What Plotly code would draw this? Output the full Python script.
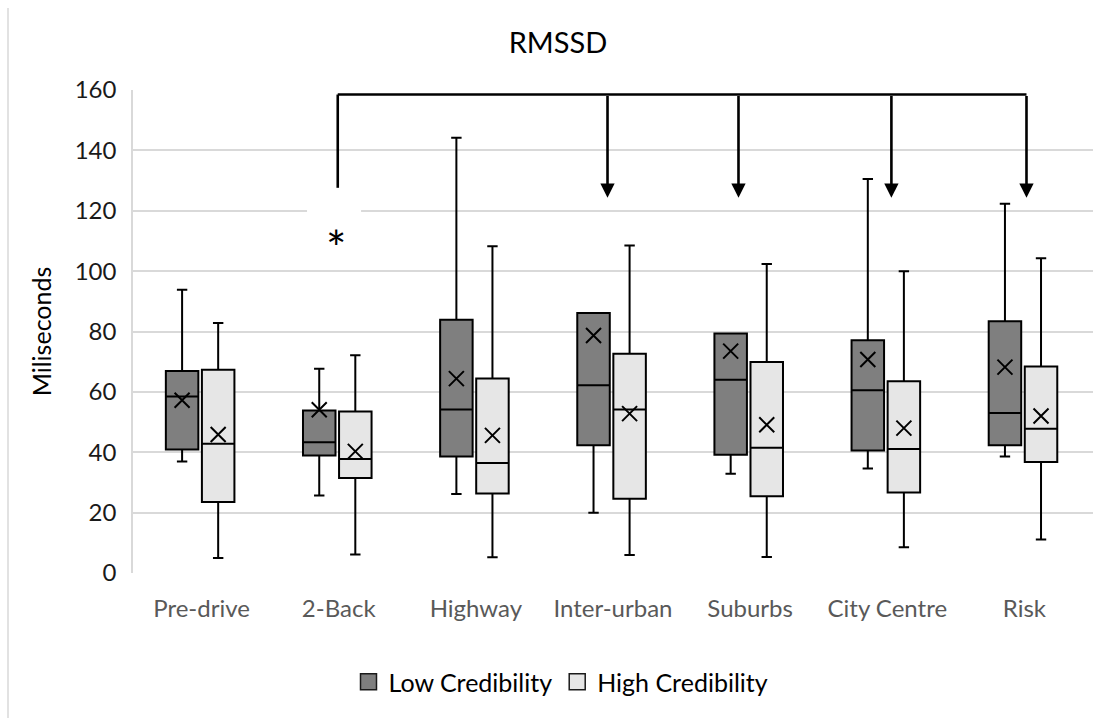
import plotly.graph_objects as go

# Phases of the drive (x categories)
phases = ["Pre-drive", "2-Back", "Highway", "Inter-urban", "Suburbs", "City Centre", "Risk"]

# RMSSD summary statistics (ms) - Low Credibility group
low_min = [36.9, 25.7, 26.2, 20.0, 32.9, 34.6, 38.6]
low_q1 = [40.9, 38.9, 38.6, 42.3, 39.2, 40.6, 42.3]
low_median = [58.5, 43.3, 54.2, 62.2, 64.0, 60.5, 53.0]
low_q3 = [66.9, 53.8, 83.9, 86.1, 79.3, 77.1, 83.4]
low_max = [93.8, 67.7, 144.2, 86.1, 79.3, 130.5, 122.3]
low_mean = [57.2, 54.1, 64.4, 78.7, 73.5, 70.7, 68.2]

# RMSSD summary statistics (ms) - High Credibility group
high_min = [5.0, 6.1, 5.2, 6.0, 5.3, 8.5, 11.1]
high_q1 = [23.5, 31.5, 26.3, 24.6, 25.4, 26.7, 36.8]
high_median = [42.8, 37.8, 36.4, 54.2, 41.5, 41.1, 47.8]
high_q3 = [67.3, 53.5, 64.4, 72.6, 69.9, 63.5, 68.4]
high_max = [82.8, 72.1, 108.2, 108.5, 102.4, 100.0, 104.3]
high_mean = [45.9, 40.3, 45.6, 52.8, 49.1, 48.0, 52.0]

# Significance bracket: from 2-Back to the phases it differs from
bracket_from = "2-Back"
bracket_to = ["Inter-urban", "Suburbs", "City Centre", "Risk"]
bracket_nudge = [-0.04, -0.085, 0.03, 0.015]
bracket_level = 158.5
bracket_from_end = 127.6
arrow_tip = 124.3
star_label = "*"
star_level = 107.8

TEXT_FONT = "Lato"
DARK = "#7f7f7f"
LIGHT = "#e6e6e6"
GRID = "#d9d9d9"

idx = {p: i for i, p in enumerate(phases)}
n = len(phases)
low_off, high_off, box_w = -0.142, 0.121, 0.237

fig = go.Figure()


def add_group(name, fill, off, q1, med, q3, lo, hi, mean):
    xs = [i + off for i in range(n)]
    fig.add_trace(go.Box(
        name=name, x=xs, q1=q1, median=med, q3=q3,
        lowerfence=lo, upperfence=hi,
        width=box_w, whiskerwidth=0.32,
        fillcolor=fill, line=dict(color="#000000", width=2),
        boxpoints=False, showlegend=False,
    ))
    fig.add_trace(go.Scatter(
        x=xs, y=mean, mode="markers", showlegend=False,
        marker=dict(symbol="x-thin-open", size=15,
                    line=dict(color="#000000", width=2), color="#000000"),
    ))
    # legend swatch
    fig.add_trace(go.Scatter(
        x=[None], y=[None], mode="markers", name=name,
        marker=dict(symbol="square", size=16, color=fill,
                    line=dict(color="#1a1a1a", width=1.5)),
    ))


add_group("Low Credibility", DARK, low_off, low_q1, low_median, low_q3,
          low_min, low_max, low_mean)
add_group("High Credibility", LIGHT, high_off, high_q1, high_median, high_q3,
          high_min, high_max, high_mean)

shapes = []
line_style = dict(color="#000000", width=2.6)
x_from = idx[bracket_from] - 0.007
x_targets = [idx[p] + d for p, d in zip(bracket_to, bracket_nudge)]

# white patch behind the asterisk
shapes.append(dict(type="rect", xref="x", yref="y",
                   x0=idx[bracket_from] - 0.231, x1=idx[bracket_from] + 0.163,
                   y0=114, y1=126, fillcolor="#ffffff", line=dict(width=0),
                   layer="between"))
# bracket
shapes.append(dict(type="line", xref="x", yref="y", x0=x_from, x1=max(x_targets),
                   y0=bracket_level, y1=bracket_level, line=line_style))
shapes.append(dict(type="line", xref="x", yref="y", x0=x_from, x1=x_from,
                   y0=bracket_level, y1=bracket_from_end, line=line_style))
# outer chart border on the left
shapes.append(dict(type="line", xref="paper", yref="paper",
                   x0=-125 / 960, x1=-125 / 960, y0=-145 / 483, y1=1 + 82 / 483,
                   line=dict(color=GRID, width=1.5)))

annotations = []
for xt in x_targets:
    annotations.append(dict(
        x=xt, y=arrow_tip, ax=xt, ay=bracket_level,
        xref="x", yref="y", axref="x", ayref="y",
        text="", showarrow=True, arrowhead=2, arrowsize=1.1,
        arrowwidth=2.6, arrowcolor="#000000", standoff=0,
    ))
annotations.append(dict(
    x=idx[bracket_from] - 0.02, y=star_level, xref="x", yref="y",
    text=star_label, showarrow=False,
    font=dict(family=TEXT_FONT, size=48, color="#000000"),
    xanchor="center", yanchor="middle",
))

fig.update_layout(
    width=1107, height=718,
    margin=dict(l=133, r=14, t=90, b=145),
    paper_bgcolor="#ffffff", plot_bgcolor="#ffffff",
    title=dict(text="RMSSD", x=558 / 1107, xref="container", xanchor="center",
               y=1 - 43 / 718, yref="container", yanchor="middle",
               font=dict(family=TEXT_FONT, size=29, color="#000000")),
    font=dict(family=TEXT_FONT, color="#000000"),
    showlegend=True,
    legend=dict(orientation="h", x=(561 - 133) / 960, xanchor="center",
                y=-(682 - 573) / 483, yanchor="middle",
                font=dict(family=TEXT_FONT, size=25, color="#000000"),
                itemclick=False),
    shapes=shapes,
    annotations=annotations,
)

fig.update_xaxes(
    range=[-0.5, n - 0.5], tickmode="array",
    tickvals=list(range(n)), ticktext=phases,
    showgrid=False, zeroline=False, showline=False, ticks="",
    ticklabelstandoff=19,
    tickfont=dict(family=TEXT_FONT, size=24, color="#595959"),
)
fig.update_yaxes(
    range=[0, 160], tickmode="linear", tick0=0, dtick=20,
    showgrid=True, gridcolor=GRID, gridwidth=1.5,
    zeroline=False, showline=True, linecolor=GRID, linewidth=1.5,
    ticks="", ticklabelstandoff=10,
    tickfont=dict(family=TEXT_FONT, size=24, color="#1a1a1a"),
    title=dict(text="Miliseconds", standoff=16,
               font=dict(family=TEXT_FONT, size=25, color="#000000")),
)

fig.write_html("out.html")
